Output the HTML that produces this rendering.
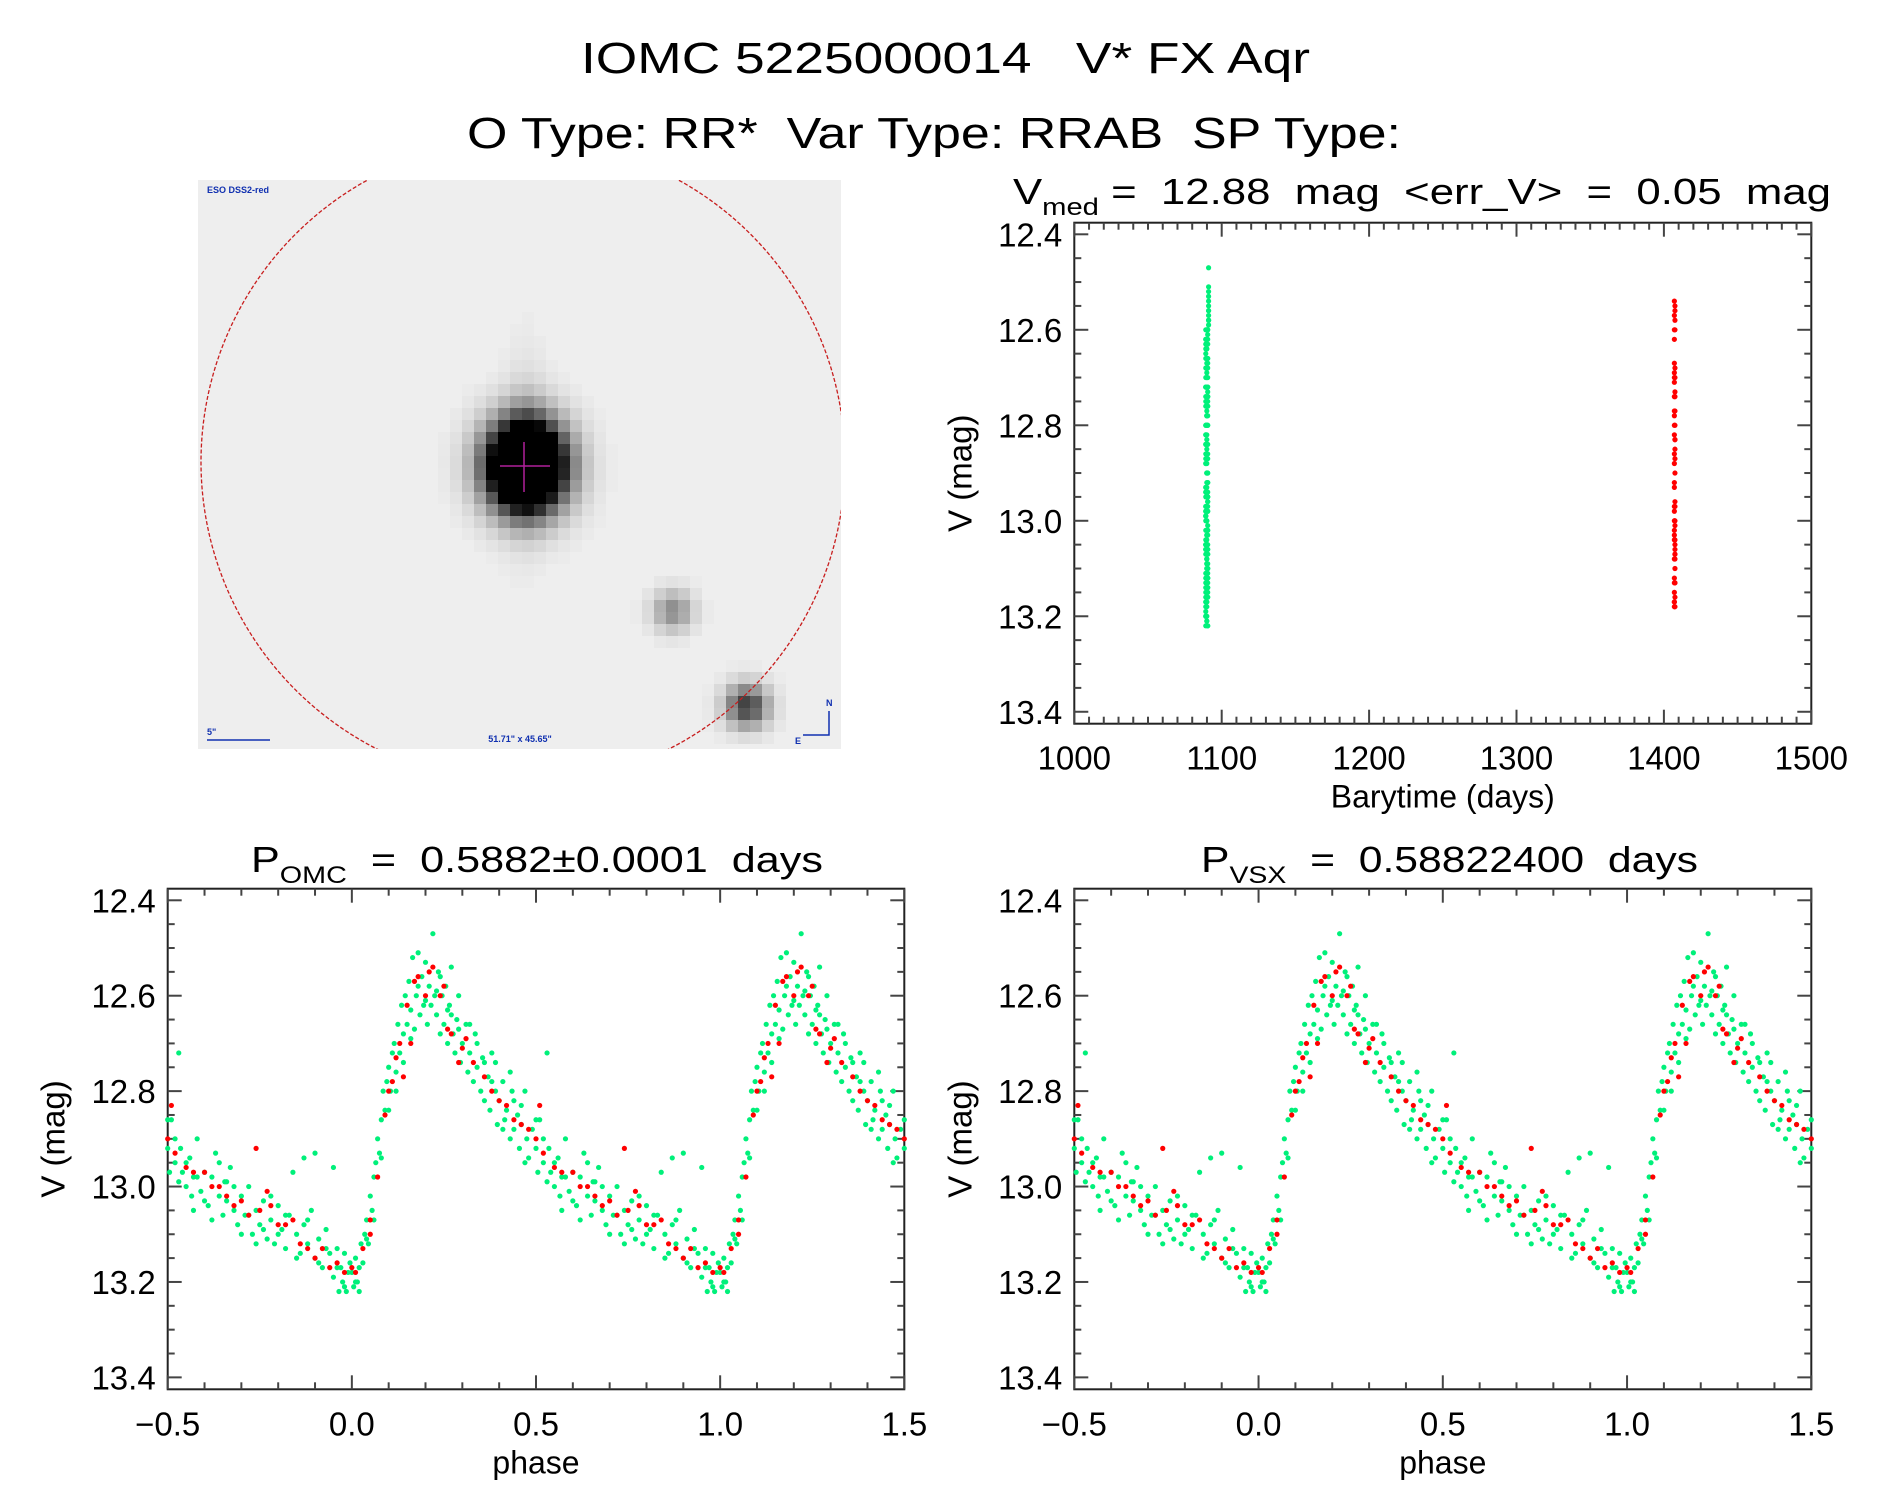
<!DOCTYPE html>
<html><head><meta charset="utf-8"><title>IOMC 5225000014 V* FX Aqr</title>
<style>html,body{margin:0;padding:0;background:#fff;}svg{display:block;font-family:"Liberation Sans",sans-serif;}</style>
</head><body>
<svg id="fig" xmlns="http://www.w3.org/2000/svg" width="1889" height="1494" viewBox="0 0 1889 1494">
<rect x="0" y="0" width="1889" height="1494" fill="#fff"/>
<text xml:space="preserve" x="581" y="73" font-size="44" textLength="729" lengthAdjust="spacingAndGlyphs">IOMC 5225000014   V* FX Aqr</text>
<text xml:space="preserve" x="467" y="148" font-size="44" textLength="934" lengthAdjust="spacingAndGlyphs">O Type: RR*  Var Type: RRAB  SP Type:</text>
<g id="imgpanel"></g>
<g id="ts"></g>
<g id="ph1"></g>
<g id="ph2"></g>
<text xml:space="preserve" x="1013" y="204" font-size="36" textLength="818" lengthAdjust="spacingAndGlyphs">V<tspan font-size="24" dy="11">med</tspan><tspan dy="-11"> =  12.88  mag  &lt;err_V&gt;  =  0.05  mag</tspan></text>
<text xml:space="preserve" x="251" y="872" font-size="36" textLength="572" lengthAdjust="spacingAndGlyphs">P<tspan font-size="24" dy="11">OMC</tspan><tspan dy="-11">  =  0.5882±0.0001  days</tspan></text>
<text xml:space="preserve" x="1201" y="872" font-size="36" textLength="497" lengthAdjust="spacingAndGlyphs">P<tspan font-size="24" dy="11">VSX</tspan><tspan dy="-11">  =  0.58822400  days</tspan></text>
</svg>
<script>
// ---------- data ----------
const greenObs = [
[0.00,13.18],[0.005,13.21],[0.01,13.15],[0.015,13.20],[0.02,13.17],[0.025,13.12],[0.03,13.16],[0.035,13.10],[0.04,13.07],[0.045,13.12],
[0.05,13.02],[0.055,13.05],[0.06,12.98],[0.065,12.95],[0.07,12.90],[0.075,12.93],[0.08,12.86],[0.085,12.80],[0.09,12.84],[0.095,12.78],
[0.10,12.75],[0.105,12.80],[0.11,12.72],[0.115,12.70],[0.12,12.76],[0.125,12.66],[0.13,12.72],[0.135,12.62],[0.14,12.68],[0.145,12.60],
[0.15,12.66],[0.155,12.57],[0.16,12.63],[0.165,12.52],[0.17,12.67],[0.175,12.60],[0.18,12.51],[0.185,12.64],[0.19,12.56],[0.195,12.62],
[0.20,12.53],[0.205,12.66],[0.21,12.58],[0.215,12.62],[0.22,12.47],[0.225,12.60],[0.23,12.64],[0.235,12.55],[0.24,12.68],[0.245,12.60],
[0.25,12.66],[0.255,12.58],[0.26,12.70],[0.265,12.62],[0.27,12.54],[0.275,12.68],[0.28,12.72],[0.285,12.65],[0.29,12.60],[0.295,12.74],
[0.30,12.70],[0.31,12.66],[0.315,12.76],[0.32,12.72],[0.33,12.78],[0.335,12.68],[0.34,12.75],[0.35,12.80],[0.355,12.73],[0.36,12.82],
[0.37,12.77],[0.375,12.84],[0.38,12.72],[0.39,12.80],[0.395,12.87],[0.40,12.82],[0.41,12.78],[0.415,12.86],[0.42,12.84],[0.43,12.90],
[0.435,12.80],[0.44,12.88],[0.45,12.85],[0.455,12.92],[0.46,12.87],[0.47,12.80],[0.475,12.90],[0.48,12.94],[0.49,12.88],[0.50,12.92],
[0.505,12.97],[0.51,12.86],[0.52,12.95],[0.53,12.99],[0.535,12.92],[0.54,12.97],[0.55,13.00],[0.56,12.94],[0.565,13.02],[0.57,12.98],
[0.58,12.90],[0.59,13.01],[0.60,12.97],[0.61,13.04],[0.62,12.98],[0.63,12.93],[0.64,13.02],[0.65,13.06],[0.655,12.99],[0.66,13.03],
[0.67,12.96],[0.68,13.05],[0.69,13.08],[0.70,13.02],[0.71,13.06],[0.72,13.00],[0.73,13.10],[0.74,13.05],[0.75,13.08],[0.76,13.03],
[0.77,13.11],[0.78,13.07],[0.79,13.12],[0.80,13.04],[0.81,13.09],[0.82,13.13],[0.83,13.06],[0.84,12.97],[0.85,13.10],[0.86,13.14],
[0.87,13.08],[0.88,13.12],[0.89,13.05],[0.90,13.15],[0.91,13.11],[0.92,13.17],[0.93,13.09],[0.94,13.14],[0.95,13.19],[0.96,13.13],
[0.965,13.22],[0.97,13.17],[0.975,13.20],[0.98,13.14],[0.985,13.22],[0.99,13.18],[0.995,13.16],[0.53,12.72],[0.90,12.93],[0.95,12.96],
[0.87,12.94],[0.32,12.66],[0.36,12.74],[0.41,12.88],[0.44,12.82],[0.47,12.95],[0.50,12.86],[0.52,12.90],[0.55,12.95],[0.57,13.05],
[0.60,13.03],[0.62,13.07],[0.66,12.99],[0.68,13.00],[0.70,13.10],[0.72,13.06],[0.74,13.12],[0.76,13.09],[0.78,13.02],[0.80,13.10],
[0.82,13.06],[0.85,13.15],[0.88,13.07],[0.91,13.16],[0.93,13.13],[0.96,13.17],[0.43,12.76],[0.39,12.74],[0.34,12.70],[0.29,12.67],
[0.26,12.63],[0.18,12.58],[0.20,12.61],[0.24,12.56],[0.16,12.69],[0.14,12.74],[0.12,12.80],[0.10,12.84],[0.08,12.94],[0.06,13.07],
[0.04,13.11],[0.02,13.22],[0.01,13.20],[0.98,13.21],[0.58,12.98],[0.64,12.95],[0.46,12.83],[0.38,12.78],[0.27,12.64],[0.23,12.59]
];
const redObs = [
[0.00,13.17],[0.01,13.18],[0.03,13.13],[0.05,13.07],[0.07,12.98],[0.09,12.85],[0.11,12.78],[0.12,12.73],[0.13,12.70],[0.14,12.77],
[0.15,12.62],[0.16,12.70],[0.17,12.57],[0.18,12.56],[0.20,12.60],[0.21,12.55],[0.22,12.54],[0.24,12.60],[0.26,12.67],[0.27,12.68],
[0.30,12.71],[0.33,12.74],[0.36,12.77],[0.38,12.80],[0.40,12.82],[0.42,12.83],[0.44,12.86],[0.46,12.87],[0.48,12.88],[0.50,12.90],
[0.52,12.93],[0.55,12.96],[0.57,12.97],[0.60,12.97],[0.62,13.00],[0.64,13.00],[0.66,13.02],[0.68,13.04],[0.70,13.03],[0.72,13.06],
[0.74,12.92],[0.77,13.01],[0.78,13.04],[0.80,13.08],[0.82,13.08],[0.84,13.07],[0.86,13.12],[0.88,13.13],[0.90,13.15],[0.92,13.13],
[0.94,13.17],[0.96,13.16],[0.98,13.18],[0.05,13.10],[0.10,12.80],[0.25,12.58],[0.29,12.74],[0.51,12.83],[0.31,12.69],[0.75,13.05]
];
// observing-campaign epochs (barycentric days) for each series in the time-series panel
const greenDays = [1089.2, 1089.9, 1090.5, 1091.1];
const redDays = [1407.1, 1407.5];
const magTicks = [12.4, 12.6, 12.8, 13.0, 13.2, 13.4];
const magTickLabels = ["12.4","12.6","12.8","13.0","13.2","13.4"];
const phaseTicks = [-0.5, 0.0, 0.5, 1.0, 1.5];
const phaseTickLabels = ["\u22120.5","0.0","0.5","1.0","1.5"];
const dayTicks = [1000, 1100, 1200, 1300, 1400, 1500];
const dayTickLabels = ["1000","1100","1200","1300","1400","1500"];

const NS = "http://www.w3.org/2000/svg";
function mk(tag, attrs, parent){const e=document.createElementNS(NS,tag);for(const k in attrs)e.setAttribute(k,attrs[k]);if(parent)parent.appendChild(e);return e;}
const GREEN="#00f07a", RED="#ff0000";

function makeAxes(g, box, xr, yr, xMajor, xMinor, yMajor, yMinor, xTicks, xLabels, xTitle, name){
  const sx=v=>box.x0+(v-xr[0])/(xr[1]-xr[0])*(box.x1-box.x0);
  const sy=v=>box.y0+(v-yr[0])/(yr[1]-yr[0])*(box.y1-box.y0);
  const frame=mk('rect',{x:box.x0,y:box.y0,width:box.x1-box.x0,height:box.y1-box.y0,fill:'none',stroke:'#222','stroke-width':2},g);
  
  
  const tg=mk('g',{stroke:'#444','stroke-width':2},g);
  
  
  const nx=Math.round((xr[1]-xr[0])/xMinor);
  for(let i=0;i<=nx;i++){const v=xr[0]+i*xMinor;const X=sx(v);
    const maj=Math.abs(v/xMajor-Math.round(v/xMajor))<1e-6;const L=maj?14:7;
    mk('line',{x1:X,y1:box.y1,x2:X,y2:box.y1-L},tg);mk('line',{x1:X,y1:box.y0,x2:X,y2:box.y0+L},tg);}
  const y0=Math.ceil(yr[0]/yMinor-1e-6)*yMinor;
  for(let v=y0;v<=yr[1]+1e-9;v+=yMinor){const Y=sy(v);
    const maj=Math.abs(v/yMajor-Math.round(v/yMajor))<1e-6;const L=maj?14:7;
    mk('line',{x1:box.x0,y1:Y,x2:box.x0+L,y2:Y},tg);mk('line',{x1:box.x1,y1:Y,x2:box.x1-L,y2:Y},tg);}
  xTicks.forEach((v,i)=>{const t=mk('text',{x:sx(v),y:box.y1+46,'font-size':33,'text-anchor':'middle'},g);t.textContent=xLabels[i];
    
    });
  magTicks.forEach((v,i)=>{const t=mk('text',{x:box.x0-12,y:sy(v)+12,'font-size':33,'text-anchor':'end'},g);t.textContent=magTickLabels[i];
    
    });
  const xt=mk('text',{x:(box.x0+box.x1)/2,y:box.y1+84,'font-size':32,'text-anchor':'middle'},g);xt.textContent=xTitle;
  
  
  const cy=(box.y0+box.y1)/2, cx=box.x0-115;
  const yt=mk('text',{x:cx,y:cy,'font-size':33,'text-anchor':'middle',transform:`rotate(-90 ${cx} ${cy})`,dy:12},g);yt.textContent="V (mag)";
  
  
  return {sx,sy};
}
const yr=[12.3757,13.425];

(function(){
  const g=document.getElementById('ts');
  const ax=makeAxes(g,{x0:1074.3,x1:1811.3,y0:222.7,y1:723.7},[1000,1500],yr,100,10,0.2,0.05,dayTicks,dayTickLabels,"Barytime (days)","timeseries");
  greenObs.forEach((o,i)=>{const d=o[1]<12.6?greenDays[3]:greenDays[i%3];
    const c=mk('circle',{cx:ax.sx(d),cy:ax.sy(o[1]),r:2.6,fill:GREEN},g);
    
    });
  redObs.forEach((o,i)=>{const d=redDays[i%2];
    const c=mk('circle',{cx:ax.sx(d),cy:ax.sy(o[1]),r:2.6,fill:RED},g);
    
    });
})();

function phasePlot(id, x0, x1, name){
  const g=document.getElementById(id);
  const ax=makeAxes(g,{x0:x0,x1:x1,y0:888.7,y1:1389.3},[-0.5,1.5],yr,0.5,0.1,0.2,0.05,phaseTicks,phaseTickLabels,"phase",name);
  const draw=(obs,col,nm)=>obs.forEach(o=>{[-1,0,1].forEach(k=>{const p=o[0]+k;if(p<-0.5||p>1.5)return;
    const c=mk('circle',{cx:ax.sx(p),cy:ax.sy(o[1]),r:2.6,fill:col},g);
    
    });});
  draw(greenObs,GREEN,name+'-point-green');
  draw(redObs,RED,name+'-point-red');
}
phasePlot('ph1',167.7,904.3,'phase-omc');
phasePlot('ph2',1074.3,1811.3,'phase-vsx');

(function(){
  const g=document.getElementById('imgpanel');
  const X0=198,Y0=180,X1=841,Y1=749,cs=12;
  mk('rect',{x:X0,y:Y0,width:X1-X0,height:Y1-Y0,fill:'#eeeeee'},g);
  const stars=[[526,466,560,27,31],[526,450,30,14,60],[673,611,100,14,14],[747,706,180,15,15]];
  for(let y=Y0;y<Y1;y+=cs){for(let x=X0;x<X1;x+=cs){
    const cx=x+cs/2,cy=y+cs/2;let v=238;
    stars.forEach(s=>{v-=s[2]*Math.exp(-((cx-s[0])**2/(2*s[3]*s[3])+(cy-s[1])**2/(2*s[4]*s[4])));});
    v=Math.max(0,Math.round(v));if(v>=236)continue;
    mk('rect',{x:x,y:y,width:Math.min(cs,X1-x),height:Math.min(cs,Y1-y),fill:`rgb(${v},${v},${v})`},g);}}
  const cp=mk('clipPath',{id:'imgclip'},g);mk('rect',{x:X0,y:Y0,width:X1-X0,height:Y1-Y0},cp);
  const circ=mk('circle',{cx:523,cy:462,r:322,fill:'none',stroke:'#c81e1e','stroke-width':1.3,'stroke-dasharray':'4 2','clip-path':'url(#imgclip)'},g);
  
  
  mk('line',{x1:500,y1:466,x2:550,y2:466,stroke:'#b0209a','stroke-width':1.5},g);
  mk('line',{x1:524,y1:442,x2:524,y2:492,stroke:'#b0209a','stroke-width':1.5},g);
  const lab=(x,y,t,nm,anchor)=>{const e=mk('text',{x:x,y:y,'font-size':9,fill:'#1030b0','text-anchor':anchor||'start','font-weight':'bold'},g);e.textContent=t;
    
    };
  lab(207,193,'ESO DSS2-red','survey-label');
  lab(207,735,'5"','scale-label');
  mk('line',{x1:207,y1:740,x2:270,y2:740,stroke:'#1030b0','stroke-width':1.5},g);
  lab(520,742,'51.71" x 45.65"','field-size-label','middle');
  mk('polyline',{points:'803,735 829,735 829,711',fill:'none',stroke:'#1030b0','stroke-width':1.5},g);
  lab(826,706,'N','north-label');lab(795,744,'E','east-label');
})();
</script>
</body></html>
